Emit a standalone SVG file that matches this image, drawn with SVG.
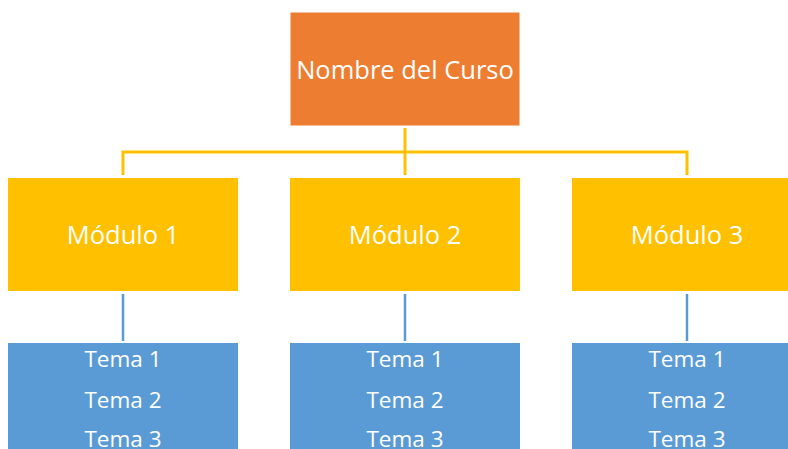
<svg xmlns="http://www.w3.org/2000/svg" width="788" height="449" viewBox="0 0 788 449">
<style>
.t{font-family:"Open Sans","Noto Sans","DejaVu Sans",sans-serif;fill:#fff;text-anchor:middle}
.big{font-size:25.5px}
.sm{font-size:22.5px}
.yl{stroke:#FFC000;stroke-width:3;fill:none}
.bl{stroke:#5B9BD5;stroke-width:2.5;fill:none}
.bx{stroke:#fff;stroke-width:1}
</style>
<rect width="788" height="449" fill="#fff"/>
<g id="connectors">
<path class="yl" d="M405 128V175M123 175V152H687V175"/>
<path class="bl" d="M123 294V341M405 294V341M687 294V341"/>
</g>
<g id="curso">
<rect class="bx" x="290" y="12" width="230" height="114" fill="#ED7D31"/>
<text class="t big" x="405" y="79">Nombre del Curso</text>
</g>
<g id="modulo1">
<rect class="bx" x="7.5" y="177.5" width="231" height="114" fill="#FFC000"/>
<text class="t big" x="123" y="244">Módulo 1</text>
</g>
<g id="modulo2">
<rect class="bx" x="289.5" y="177.5" width="231" height="114" fill="#FFC000"/>
<text class="t big" x="405" y="244">Módulo 2</text>
</g>
<g id="modulo3">
<rect class="bx" x="571.5" y="177.5" width="231" height="114" fill="#FFC000"/>
<text class="t big" x="687" y="244">Módulo 3</text>
</g>
<g id="temas1">
<rect class="bx" x="7.5" y="342.5" width="231" height="120" fill="#5B9BD5"/>
<text class="t sm" x="123" y="367">Tema 1</text>
<text class="t sm" x="123" y="408">Tema 2</text>
<text class="t sm" x="123" y="447">Tema 3</text>
</g>
<g id="temas2">
<rect class="bx" x="289.5" y="342.5" width="231" height="120" fill="#5B9BD5"/>
<text class="t sm" x="405" y="367">Tema 1</text>
<text class="t sm" x="405" y="408">Tema 2</text>
<text class="t sm" x="405" y="447">Tema 3</text>
</g>
<g id="temas3">
<rect class="bx" x="571.5" y="342.5" width="231" height="120" fill="#5B9BD5"/>
<text class="t sm" x="687" y="367">Tema 1</text>
<text class="t sm" x="687" y="408">Tema 2</text>
<text class="t sm" x="687" y="447">Tema 3</text>
</g>
</svg>
